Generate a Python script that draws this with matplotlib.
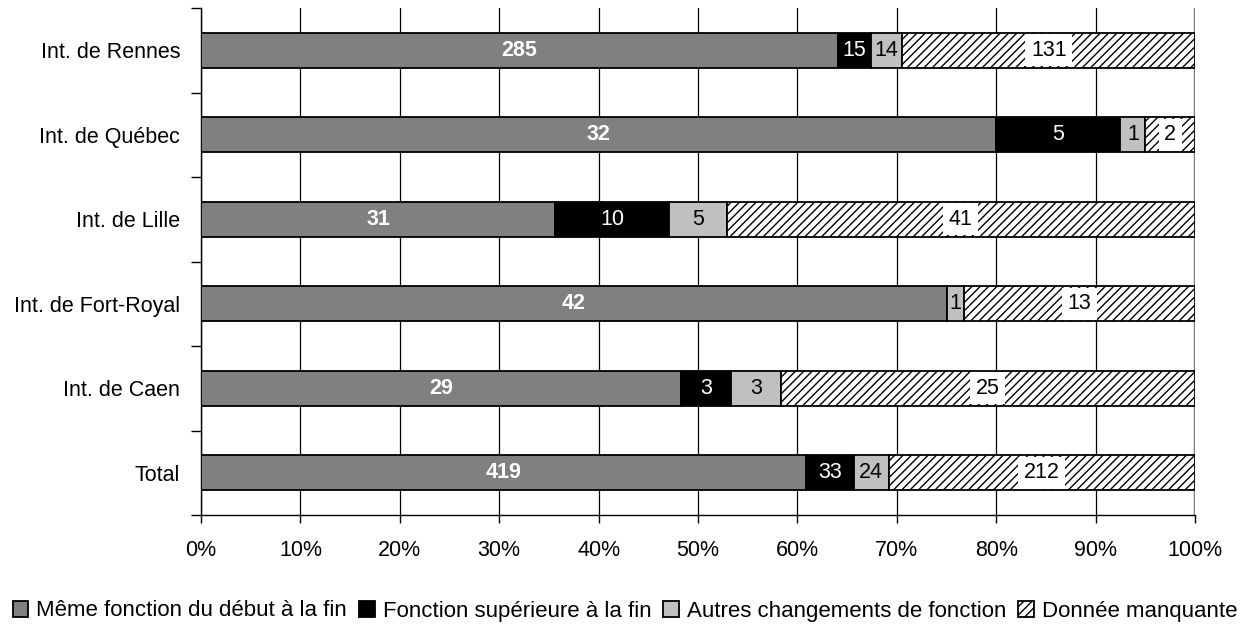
import matplotlib
matplotlib.use("Agg")
import matplotlib.pyplot as plt
import numpy as np

plt.rcParams['font.family'] = ['Liberation Sans', 'DejaVu Sans']
plt.rcParams['hatch.linewidth'] = 1.0
plt.rcParams['hatch.color'] = '#555555'

categories = ["Int. de Rennes", "Int. de Québec", "Int. de Lille",
              "Int. de Fort-Royal", "Int. de Caen", "Total"]
meme = [285, 32, 31, 42, 29, 419]
superieure = [15, 5, 10, 0, 3, 33]
autres = [14, 1, 5, 1, 3, 24]
manquante = [131, 2, 41, 13, 25, 212]
series_names = ["Même fonction du début à la fin", "Fonction supérieure à la fin",
                "Autres changements de fonction", "Donnée manquante"]
xtick_labels = [f"{v}%" for v in range(0, 101, 10)]

series = [meme, superieure, autres, manquante]
colors = ['#808080', '#000000', '#c0c0c0', 'white']
hatches = [None, None, None, '////']

FS = 15.5

fig = plt.figure(figsize=(12.5, 6.29), dpi=100)
ax = fig.add_axes([201/1250, 1-515/629, 994/1250, 507/629])

data = np.array(series, dtype=float)
totals = data.sum(axis=0)
pct = data / totals * 100
n = len(categories)
ypos = np.arange(n)[::-1]

left = np.zeros(n)
for i, (vals, p) in enumerate(zip(series, pct)):
    ax.barh(ypos, p, left=left, height=0.42, color=colors[i],
            edgecolor='black', linewidth=1.3, hatch=hatches[i],
            label=series_names[i], zorder=3)
    for j in range(n):
        if vals[j] == 0:
            continue
        cx = left[j] + p[j] / 2
        if i == 0:
            ax.text(cx, ypos[j], str(vals[j]), color='white', fontweight='bold',
                    ha='center', va='center', fontsize=FS, zorder=5)
        elif i == 1:
            ax.text(cx, ypos[j], str(vals[j]), color='white',
                    ha='center', va='center', fontsize=FS, zorder=5)
        elif i == 2:
            ax.text(cx, ypos[j], str(vals[j]), color='black',
                    ha='center', va='center', fontsize=FS, zorder=5)
        else:
            ax.text(cx, ypos[j], str(vals[j]), color='black',
                    ha='center', va='center', fontsize=FS, zorder=5,
                    bbox=dict(facecolor='white', edgecolor='none', pad=4))
    left = left + p

ax.set_xlim(0, 100)
ax.set_ylim(-0.5, n - 0.5)
ax.set_xticks(np.arange(0, 101, 10))
ax.set_xticklabels(xtick_labels, fontsize=FS)
ax.set_yticks(ypos)
ax.set_yticklabels(categories, fontsize=FS)
ax.set_yticks(np.arange(-0.5, n, 1.0), minor=True)
ax.tick_params(axis='y', which='major', length=0, pad=15)
ax.tick_params(axis='y', which='minor', length=7, width=1, direction='out')
ax.tick_params(axis='x', which='major', length=6, width=1, direction='out', pad=12)
ax.xaxis.grid(True, color='black', linewidth=0.9, zorder=0)
ax.set_axisbelow(True)
for s in ['top', 'right']:
    ax.spines[s].set_visible(False)
ax.spines['left'].set_linewidth(1.0)
ax.spines['bottom'].set_linewidth(1.0)
ax.axvline(100, color='#808080', linewidth=2.5, zorder=1)

leg = fig.legend(loc='center', bbox_to_anchor=(0.5, 1-611/629), ncol=4, frameon=False,
                 fontsize=16, handlelength=0.7, handleheight=0.7, handletextpad=0.35,
                 columnspacing=0.55, borderaxespad=0)

fig.savefig("out.png", dpi=100)
